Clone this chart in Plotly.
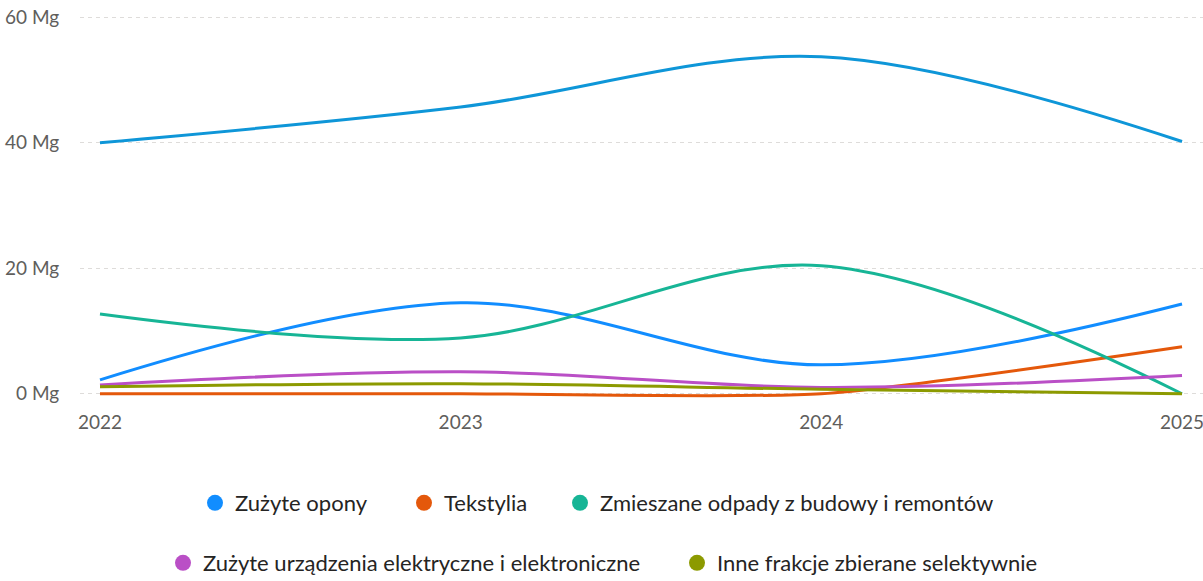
import plotly.graph_objects as go

years = [2022, 2023, 2024, 2025]
series_names = [
    "Zużyte opony",
    "Tekstylia",
    "Zmieszane odpady z budowy i remontów",
    "Zużyte urządzenia elektryczne i elektroniczne",
    "Inne frakcje zbierane selektywnie",
]
top_series = [40.0, 45.7, 53.7, 40.2]          # unnamed top series (not in visible legend)
opony = [2.2, 14.5, 4.6, 14.3]
tekstylia = [0.0, 0.0, 0.0, 7.5]
budowa = [12.7, 8.9, 20.4, 0.0]
elektro = [1.4, 3.5, 1.0, 2.9]
inne = [1.1, 1.6, 0.7, 0.0]
y_ticks = [0, 20, 40, 60]
y_tick_labels = ["0 Mg", "20 Mg", "40 Mg", "60 Mg"]

colors = ["#118DFF", "#E4580B", "#17B596", "#BA4FC6", "#8C9A00"]
top_color = "#0E96D8"
smooth = [1, 0.6, 1, 1, 1]

# legend entry placement (circle centre x, row centre y) in page pixels
leg_pos = [(215, 503), (424, 503), (580, 503), (183, 563), (697, 563)]
leg_ids = ["legend", "legend2", "legend3", "legend4", "legend5"]

FONT = "Lato, Noto Sans, sans-serif"
W, H = 1203, 581
fig = go.Figure()

fig.add_trace(go.Scatter(x=years, y=top_series, mode="lines", showlegend=False,
                         line=dict(color=top_color, width=3, shape="spline", smoothing=1),
                         hoverinfo="skip"))
values = [opony, tekstylia, budowa, elektro, inne]
for name, vals, c, s in zip(series_names, values, colors, smooth):
    fig.add_trace(go.Scatter(x=years, y=vals, mode="lines", name=name, showlegend=False,
                             line=dict(color=c, width=3, shape="spline", smoothing=s)))

# legend entries (circles), each in its own legend box
leg_layout = {}
for name, c, lid, (px, py) in zip(series_names, colors, leg_ids, leg_pos):
    fig.add_trace(go.Scatter(x=[None], y=[None], mode="markers", name=name,
                             marker=dict(color=c, size=17, symbol="circle"),
                             legend=lid))
    leg_layout[lid] = dict(orientation="h", xref="container", x=(px - 20) / W, xanchor="left",
                           yref="container", y=1 - py / H, yanchor="middle",
                           font=dict(family=FONT, size=22, color="#252423"),
                           bgcolor="rgba(0,0,0,0)", itemwidth=30, borderwidth=0)

fig.update_layout(
    width=W, height=H,
    margin=dict(l=80, r=0, t=11, b=181),
    paper_bgcolor="white", plot_bgcolor="white",
    font=dict(family=FONT),
    xaxis=dict(range=[2021.9446, 2025.0582], tickvals=years, ticktext=[str(y) for y in years],
               showgrid=False, zeroline=False, showline=False, automargin=False,
               ticklabeloverflow="allow",
               ticks="outside", ticklen=5, tickcolor="rgba(0,0,0,0)",
               tickfont=dict(family=FONT, size=19, color="#605E5C")),
    yaxis=dict(range=[-1, 61], tickvals=y_ticks, ticktext=y_tick_labels,
               showgrid=True, gridcolor="#DEDCDA", gridwidth=1, griddash="4px,4px",
               zeroline=False, showline=False, automargin=False,
               ticks="outside", ticklen=16, tickcolor="rgba(0,0,0,0)",
               tickfont=dict(family=FONT, size=19, color="#605E5C")),
    **leg_layout,
)

fig.write_html("out.html", config={"displayModeBar": False},
               post_script="document.body.style.margin='0';")
